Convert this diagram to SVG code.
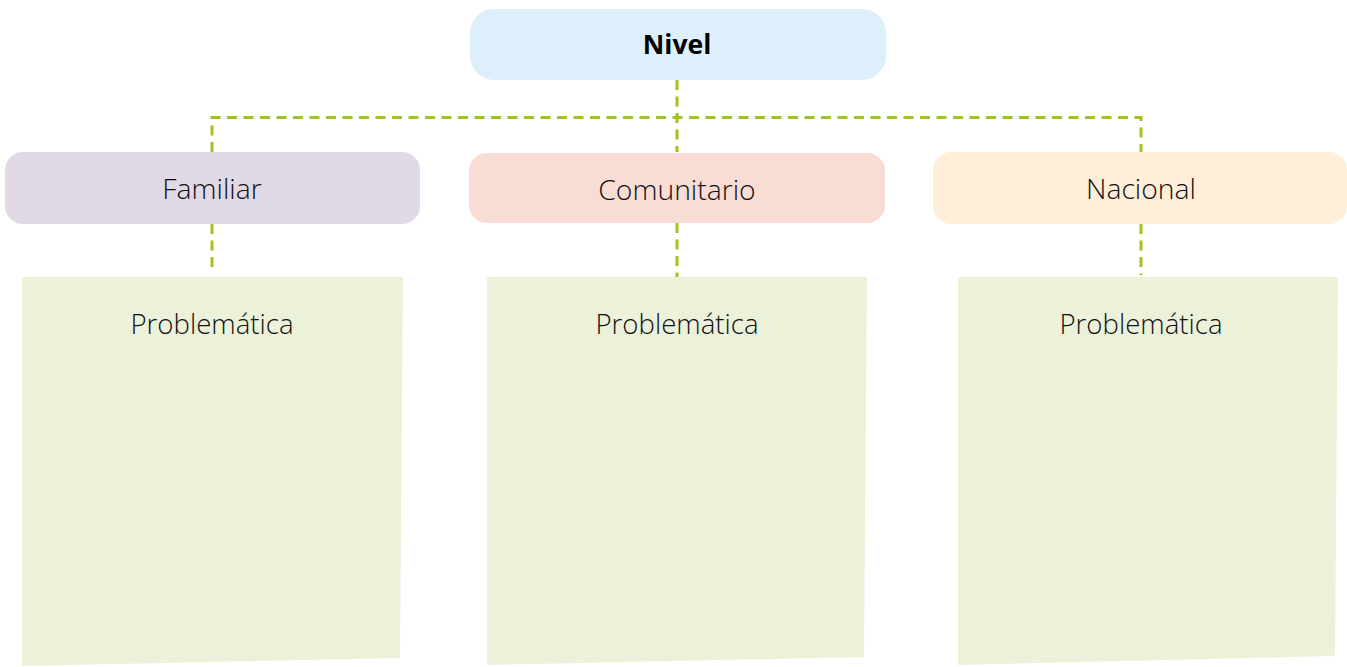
<svg xmlns="http://www.w3.org/2000/svg" width="1347" height="667" viewBox="0 0 1347 667">
<style>
.t{font-family:"Open Sans","Noto Sans",sans-serif;font-size:28.3px;font-weight:350;fill:#111;text-anchor:middle}
.p{font-size:27.6px}
.b{font-weight:bold;fill:#000;font-size:26.5px}
.c{fill:none;stroke:#9DC41F;stroke-width:3;stroke-dasharray:10 6.5}
.note{fill:#ECF1DA}
</style>
<rect width="1347" height="667" fill="#fff"/>
<g id="connectors">
<path class="c" d="M677 80V152"/>
<path class="c" d="M212 152V117.5H1141V152"/>
<path class="c" d="M212 224V271"/>
<path class="c" d="M677 223V277"/>
<path class="c" d="M1141 224V275"/>
</g>
<g id="nivel">
<rect x="470" y="9" width="416" height="71" rx="24" fill="#DEEFFC"/>
<text class="t b" x="677" y="54">Nivel</text>
</g>
<g id="familiar">
<rect x="5" y="152" width="415" height="72" rx="18" fill="#E1D9E6"/>
<text class="t" x="212" y="199">Familiar</text>
</g>
<g id="comunitario">
<rect x="469" y="153" width="416" height="70" rx="18" fill="#F9DCD4"/>
<text class="t" x="677" y="200">Comunitario</text>
</g>
<g id="nacional">
<rect x="933" y="152" width="414" height="72" rx="18" fill="#FFEFD9"/>
<text class="t" x="1141" y="199">Nacional</text>
</g>
<g id="note-familiar">
<polygon class="note" points="22,277 403,277 400,658 22,666"/>
<text class="t p" x="212" y="334">Problemática</text>
</g>
<g id="note-comunitario">
<polygon class="note" points="487,277 867,277 864,657 487,665"/>
<text class="t p" x="677" y="334">Problemática</text>
</g>
<g id="note-nacional">
<polygon class="note" points="958,277 1338,277 1335,656 958,665"/>
<text class="t p" x="1141" y="334">Problemática</text>
</g>
</svg>
